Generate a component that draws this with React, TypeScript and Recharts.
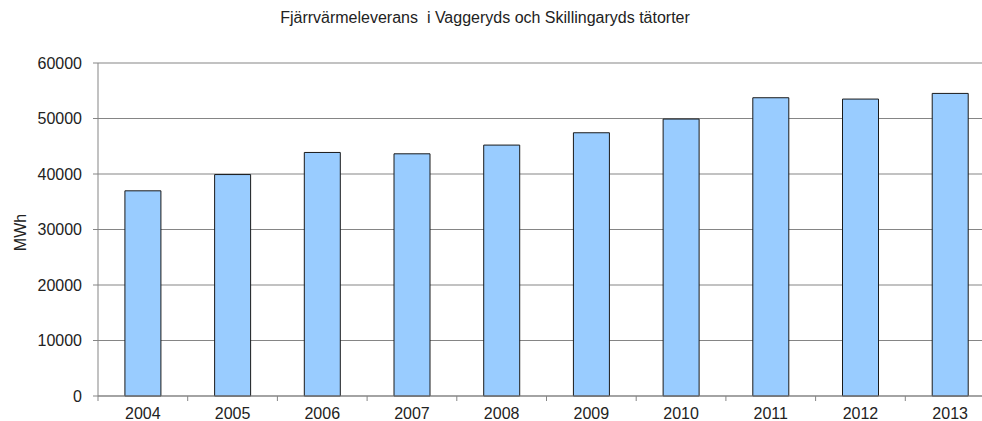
import React from "react";
import { BarChart, Bar, XAxis, YAxis, CartesianGrid, Label } from "recharts";

const years = ["2004", "2005", "2006", "2007", "2008", "2009", "2010", "2011", "2012", "2013"];
const deliveries = [36970, 39900, 43880, 43640, 45210, 47430, 49900, 53740, 53500, 54520];
const yTicks = [0, 10000, 20000, 30000, 40000, 50000, 60000];

const data = years.map((year, i) => ({ year, mwh: deliveries[i] }));

const CHART_W = 1000;
const CHART_H = 421;
const MARGIN = { top: 63, right: 5, left: 0, bottom: 0 };
const Y_AXIS_W = 98;
const BAND = (CHART_W - MARGIN.left - MARGIN.right - Y_AXIS_W) / years.length;

const FONT = '"Liberation Sans", Arial, sans-serif';
const AXIS_GRAY = "#858585";

// category label plus a tick mark on the boundary between categories
function YearTick(props: any) {
  const { x, y, payload, index, visibleTicksCount } = props;
  const last = index === visibleTicksCount - 1;
  return (
    <g>
      <line x1={x - BAND / 2} x2={x - BAND / 2} y1={y} y2={y + 5} stroke={AXIS_GRAY} />
      {last && <line x1={x + BAND / 2} x2={x + BAND / 2} y1={y} y2={y + 5} stroke={AXIS_GRAY} />}
      <text x={x} y={y + 23} textAnchor="middle" fill="#222" fontSize={16} fontFamily={FONT}>
        {payload.value}
      </text>
    </g>
  );
}

function UnitLabel(props: any) {
  const { viewBox } = props;
  const cx = 20;
  const cy = viewBox.y + viewBox.height / 2 + 3;
  return (
    <text
      x={cx}
      y={cy}
      transform={`rotate(-90 ${cx} ${cy})`}
      textAnchor="middle"
      dominantBaseline="central"
      fill="#222"
      fontSize={16}
      fontFamily={FONT}
    >
      MWh
    </text>
  );
}

export default function App() {
  return (
    <div
      style={{
        position: "absolute",
        left: 0,
        top: 0,
        width: 982,
        height: 421,
        overflow: "hidden",
        background: "#fff",
        fontFamily: FONT,
      }}
    >
      <div
        style={{
          position: "absolute",
          top: 9,
          left: 0,
          width: 970,
          textAlign: "center",
          fontSize: 16,
          color: "#222",
          whiteSpace: "pre",
        }}
      >
        Fjärrvärmeleverans  i Vaggeryds och Skillingaryds tätorter
      </div>
      <BarChart width={CHART_W} height={CHART_H} data={data} margin={MARGIN} barCategoryGap="30%">
        <CartesianGrid vertical={false} stroke={AXIS_GRAY} />
        <XAxis
          dataKey="year"
          height={25}
          axisLine={{ stroke: AXIS_GRAY }}
          tickLine={false}
          tickSize={0}
          tickMargin={0}
          interval={0}
          tick={<YearTick />}
        />
        <YAxis
          width={Y_AXIS_W}
          domain={[0, 60000]}
          ticks={yTicks}
          interval={0}
          axisLine={{ stroke: AXIS_GRAY }}
          tickLine={{ stroke: AXIS_GRAY }}
          tickSize={5}
          tickMargin={11}
          tick={{ fill: "#222", fontSize: 16, fontFamily: FONT }}
        >
          <Label content={<UnitLabel />} />
        </YAxis>
        <Bar dataKey="mwh" fill="#99ccff" stroke="#1a1a1a" strokeWidth={1} isAnimationActive={false} />
      </BarChart>
    </div>
  );
}
